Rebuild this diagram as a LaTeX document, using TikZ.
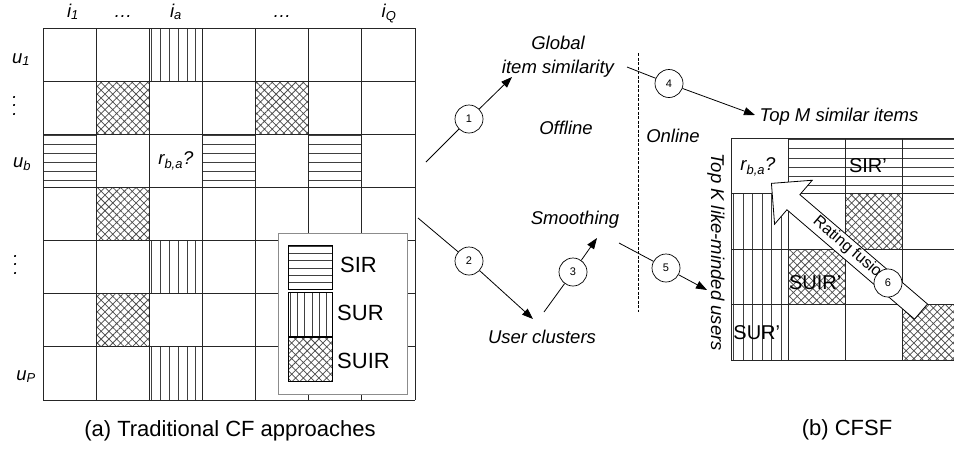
\documentclass[tikz,border=0pt]{standalone}
\usepackage{fontspec}
\setmainfont{Liberation Sans}
\usetikzlibrary{arrows.meta, shapes.arrows, patterns.meta}

% stripes and hatching for one cell (col, row), unit = one cell
\newcommand\vstrip[2]{%
  \foreach \k in {0,...,5}
    \draw[stripe] ({#1-1+(\k+0.25)/6},#2-1) -- ++(0,1);}
\newcommand\hstrip[2]{%
  \foreach \k in {0,...,5}
    \draw[stripe] (#1-1,{#2-1+(\k+0.15)/6}) -- ++(1,0);}
\newcommand\xhatch[2]{%
  \fill[hatch] (#1-1,#2-1) rectangle ++(1,1);}
\newcommand\vdotsbig{\vbox{\baselineskip=8.5pt\lineskiplimit=0pt\hbox{.}\hbox{.}\hbox{.}}}

\begin{document}
\begin{tikzpicture}[
    x=1pt, y=-1pt,
    cell/.style={draw=black!85, line width=0.9pt},
    stripe/.style={black!75, line width=0.6pt},
    hatch/.style={
        pattern={Hatch[angle=45,distance=5.5pt,line width=0.75pt]},
        pattern color=black!70
    },
    lbl/.style={font=\fontsize{18.5}{24}\selectfont\itshape, inner sep=1pt},
    captext/.style={font=\fontsize{22}{26}\selectfont, inner sep=0pt},
    celltag/.style={font=\fontsize{20}{24}\selectfont, inner sep=0pt},
    num/.style={
        circle,
        draw,
        fill=white,
        line width=0.7pt,
        minimum size=28pt,
        inner sep=0pt,
        font=\fontsize{11}{13}\selectfont
    },
    flow/.style={line width=0.8pt},
    flowarr/.style={flow, -{Triangle[length=11pt,width=8pt]}},
    fusion/.style={
        single arrow,
        draw,
        fill=white,
        line width=0.8pt,
        shape border rotate=180,
        minimum height=197pt,
        minimum width=57pt,
        single arrow head extend=19pt,
        text height=9.5pt,
        text depth=3pt,
        inner xsep=2pt,
        inner ysep=3.3pt,
        font=\fontsize{16}{18}\selectfont
    },
    legend box/.style={
        rectangle,
        draw=black!45,
        fill=white,
        line width=0.8pt,
        minimum width=129pt,
        minimum height=161pt
    }
]
    \useasboundingbox (0,0) rectangle (954,448);

    % (a) rating matrix
    \begin{scope}[shift={(43,28)}, x=53.14pt, y=-53.14pt]
        \foreach \c/\r in {3/1,3/5,3/7} {\vstrip{\c}{\r}}
        \foreach \c/\r in {1/3,4/3,6/3} {\hstrip{\c}{\r}}
        \foreach \c/\r in {2/2,5/2,2/4,2/6} {\xhatch{\c}{\r}}
        \foreach \i in {0,...,7} {
            \draw[cell] (\i,0) -- (\i,7);
            \draw[cell] (0,\i) -- (7,\i);
        }
        \node[lbl] (rba) at (2.5,2.5) {r\textsubscript{b,a}?};
    \end{scope}

    \node[lbl, anchor=base] (i1) at (73,17) {i\textsubscript{1}};
    \node[lbl, anchor=base] (idots1) at (123,17) {\dots};
    \node[lbl, anchor=base] (ia) at (176,17) {i\textsubscript{a}};
    \node[lbl, anchor=base] (idots2) at (282,17) {\dots};
    \node[lbl, anchor=base] (iq) at (389,17) {i\textsubscript{Q}};
    \node[lbl, anchor=base] (u1) at (21,63) {u\textsubscript{1}};
    \node[lbl] (udots1) at (15,106) {\vdotsbig};
    \node[lbl, anchor=base] (ub) at (22,167) {u\textsubscript{b}};
    \node[lbl] (udots2) at (16,265) {\vdotsbig};
    \node[lbl, anchor=base] (up) at (26,380) {u\textsubscript{P}};

    % legend
    \node[legend box] (legend) at (342.5,313.5) {};
    \begin{scope}[shift={(288,245)}, x=44pt, y=-44pt]
        \hstrip{1}{1}
        \vstrip{1}{2.07}
        \xhatch{1}{3.1}
        \draw[line width=0.8pt] (0,0) rectangle (1,1);
        \draw[line width=0.8pt] (0,1.07) rectangle (1,2.07);
        \draw[line width=0.8pt] (0,2.1) rectangle (1,3.1);
    \end{scope}
    \node[captext, anchor=west] (sir) at (340,265) {SIR};
    \node[captext, anchor=west] (sur) at (337,313) {SUR};
    \node[captext, anchor=west] (suir) at (337,361) {SUIR};

    % offline / online steps
    \node[lbl, align=center] (glob) at (558,57) {Global\\item similarity};
    \node[lbl] (offl) at (566,128) {Offline};
    \node[lbl] (onl) at (673,136) {Online};
    \node[lbl] (smooth) at (575,220) {Smoothing};
    \node[lbl] (clust) at (542,337) {User clusters};
    \node[lbl] (topm) at (839,117) {Top M similar items};
    \node[lbl, rotate=-90] (topk) at (716,252) {Top K like-minded users};

    \draw[dashed, line width=0.6pt, dash pattern=on 3pt off 1.5pt] (638,53) -- (638,312);

    \coordinate (a1s) at (426,162);
    \coordinate (a1e) at (512,77);
    \coordinate (a2s) at (418,218);
    \coordinate (a2e) at (533,319);
    \coordinate (a3s) at (544,312);
    \coordinate (a3e) at (597,238);
    \coordinate (a4s) at (627,67);
    \coordinate (a4e) at (755,115);
    \coordinate (a5s) at (619,243);
    \coordinate (a5e) at (707,290);

    \node[num] (n1) at (469,119) {1};
    \node[num] (n2) at (469,261) {2};
    \node[num] (n3) at (573,272) {3};
    \node[num] (n4) at (669,83.5) {4};
    \node[num] (n5) at (666,268) {5};

    \draw[flow] (a1s) -- (n1);
    \draw[flowarr] (n1) -- (a1e);
    \draw[flow] (a2s) -- (n2);
    \draw[flowarr] (n2) -- (a2e);
    \draw[flow] (a3s) -- (n3);
    \draw[flowarr] (n3) -- (a3e);
    \draw[flow] (a4s) -- (n4);
    \draw[flowarr] (n4) -- (a4e);
    \draw[flow] (a5s) -- (n5);
    \draw[flowarr] (n5) -- (a5e);

    % (b) smoothed matrix
    \begin{scope}[shift={(731,138)}, x=57.3pt, y=-55.5pt]
        \clip (-0.1,-0.1) rectangle (3.9,4.1);
        \foreach \c in {2,3,4} {\hstrip{\c}{1}}
        \foreach \r in {2,3,4} {\vstrip{1}{\r}}
        \foreach \c/\r in {3/2,2/3,4/4} {\xhatch{\c}{\r}}
        \foreach \i in {0,...,4} {
            \draw[cell] (\i,0) -- (\i,4);
            \draw[cell] (0,\i) -- (4,\i);
        }
        \draw[cell, line width=1.8pt] (1,1) -- (4,1);
        \node[lbl] (rba2) at (0.47,0.52) {r\textsubscript{b,a}?};
        \node[celltag] (sirp) at (2.39,0.5) {SIR'};
        \node[celltag] (suirp) at (1.47,2.61) {SUIR'};
        \node[celltag] (surp) at (0.45,3.5) {SUR'};
    \end{scope}

    \node[fusion, anchor=tip, rotate=-40.6] (fus) at (771,183) {Rating fusion};
    \node[num] (n6) at (888,283) {6};

    % captions
    \node[captext, anchor=base] (capa) at (230,436) {(a) Traditional CF approaches};
    \node[captext, anchor=base] (capb) at (847,435) {(b) CFSF};
\end{tikzpicture}
\end{document}
